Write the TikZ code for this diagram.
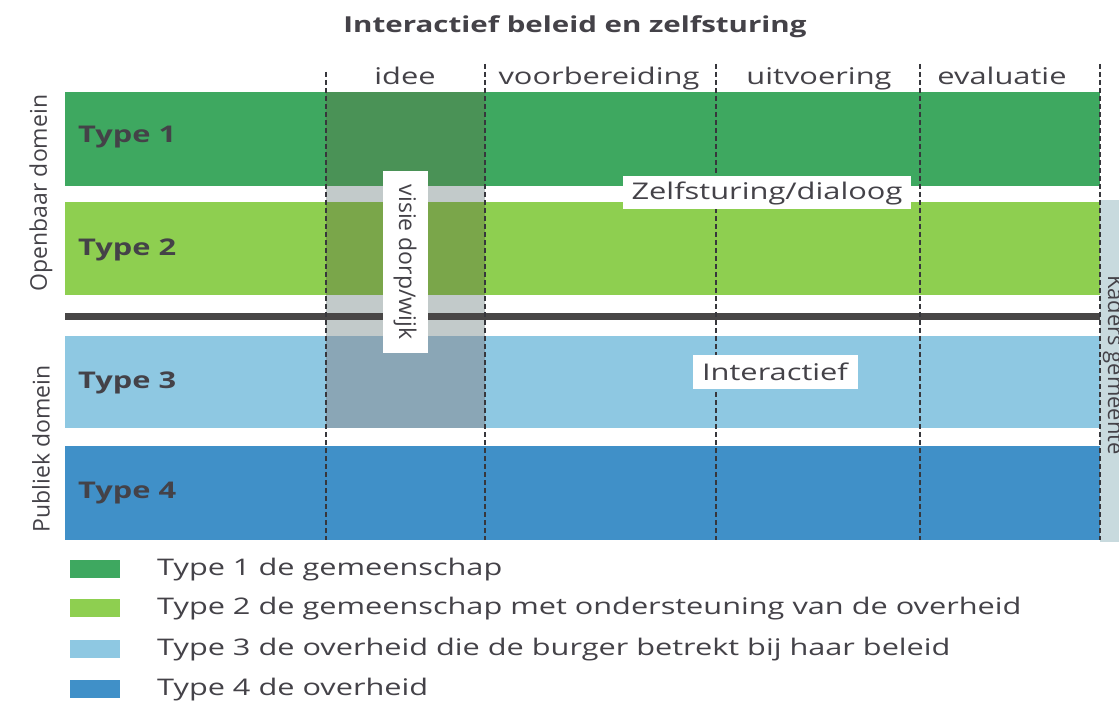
\documentclass[tikz,border=0pt]{standalone}
\usepackage{fontspec}
\setmainfont{Open Sans}
\newfontfamily\widefont[FakeStretch=1.34]{Open Sans}
\definecolor{txt}{RGB}{68,66,72}
\definecolor{tone}{RGB}{62,168,96}
\definecolor{ttwo}{RGB}{142,207,80}
\definecolor{tthree}{RGB}{142,200,226}
\definecolor{tfour}{RGB}{64,144,200}
\definecolor{ione}{RGB}{74,146,86}
\definecolor{itwo}{RGB}{122,166,74}
\definecolor{ithree}{RGB}{138,166,182}
\definecolor{igap}{RGB}{194,202,202}
\definecolor{darkline}{RGB}{72,70,70}
\definecolor{stripc}{RGB}{200,218,222}
\definecolor{dashc}{RGB}{55,55,60}
\tikzset{
  phaseline/.style={draw=dashc, line width=2pt, dash pattern=on 5pt off 3pt},
  phasehead/.style={font=\widefont\fontsize{23}{25}\selectfont, text=txt, inner sep=0pt, anchor=base},
  typelabel/.style={font=\widefont\bfseries\fontsize{23}{25}\selectfont, text=txt, inner sep=0pt, anchor=west},
  domainlabel/.style={font=\fontsize{23}{25}\selectfont, text=txt, inner sep=0pt, rotate=90},
  whitebox/.style={fill=white, inner sep=0pt, text=txt, font=\widefont\fontsize{23}{25}\selectfont},
  legendsq/.style={inner sep=0pt, minimum width=50pt, minimum height=18pt},
  legendtxt/.style={font=\widefont\fontsize{22.9}{25}\selectfont, text=txt, inner sep=0pt, anchor=west}
}
\begin{document}
\begin{tikzpicture}[x=1pt,y=-1pt]
\useasboundingbox (0,0) rectangle (1119,703);
\clip (0,0) rectangle (1119,703);
\fill[white] (0,0) rectangle (1119,703);
% title
\node[font=\widefont\bfseries\fontsize{22}{24}\selectfont, text=txt, inner sep=0pt] (title) at (575,27) {Interactief beleid en zelfsturing};
% right strip
\fill[stripc] (1100,200) rectangle (1119,542);
\node[rotate=-90, anchor=base, font=\fontsize{22}{24}\selectfont, text=txt, inner sep=0pt] (kaders) at (1108,365) {Kaders gemeente};
% bars
\fill[tone] (65,92) rectangle (1100,186);
\fill[ttwo] (65,202) rectangle (1100,295);
\fill[tthree] (65,336) rectangle (1100,428);
\fill[tfour] (65,446) rectangle (1100,540);
% idee overlay
\fill[igap] (326,186) rectangle (485,202);
\fill[igap] (326,295) rectangle (485,336);
\fill[ione] (326,92) rectangle (485,186);
\fill[itwo] (326,202) rectangle (485,295);
\fill[ithree] (326,336) rectangle (485,428);
% dark divider
\fill[darkline] (65,313) rectangle (1100,320);
% phase lines
\coordinate (l1t) at (326,72); \coordinate (l1b) at (326,540);
\coordinate (l2t) at (485,64); \coordinate (l2b) at (485,540);
\coordinate (l3t) at (716,64); \coordinate (l3b) at (716,540);
\coordinate (l4t) at (920,64); \coordinate (l4b) at (920,540);
\coordinate (l5t) at (1100,64); \coordinate (l5b) at (1100,540);
\draw[phaseline] (l1t) -- (l1b);
\draw[phaseline] (l2t) -- (l2b);
\draw[phaseline] (l3t) -- (l3b);
\draw[phaseline] (l4t) -- (l4b);
\draw[phaseline] (l5t) -- (l5b);
% headers
\node[phasehead] (idee) at (405,85) {idee};
\node[phasehead] (voorb) at (599,85) {voorbereiding};
\node[phasehead] (uitv) at (819,85) {uitvoering};
\node[phasehead] (eval) at (1002,85) {evaluatie};
% type labels
\node[typelabel] (type1) at (78,137) {Type 1};
\node[typelabel] (type2) at (78,250) {Type 2};
\node[typelabel] (type3) at (78,383) {Type 3};
\node[typelabel] (type4) at (78,493) {Type 4};
% domain labels
\node[domainlabel] (openbaar) at (41,193) {Openbaar domein};
\node[domainlabel] (publiek) at (41,449) {Publiek domein};
% white boxes
\node[whitebox, font=\fontsize{23}{25}\selectfont, rotate=-90, minimum width=181pt, minimum height=45pt] (visie) at (405,262) {visie dorp/wijk};
\node[whitebox, minimum width=288pt, minimum height=33pt] (zelf) at (767,193) {Zelfsturing/dialoog};
\node[whitebox, minimum width=165pt, minimum height=34pt] (inter) at (775,372) {Interactief};
% legend
\node[legendsq, fill=tone] (sq1) at (95,569) {};
\node[legendsq, fill=ttwo] (sq2) at (95,608) {};
\node[legendsq, fill=tthree] (sq3) at (95,649) {};
\node[legendsq, fill=tfour] (sq4) at (95,689) {};
\node[legendtxt] (lg1) at (157,570) {Type 1 de gemeenschap};
\node[legendtxt] (lg2) at (157,609) {Type 2 de gemeenschap met ondersteuning van de overheid};
\node[legendtxt] (lg3) at (157,650) {Type 3 de overheid die de burger betrekt bij haar beleid};
\node[legendtxt] (lg4) at (157,690) {Type 4 de overheid};
\end{tikzpicture}
\end{document}
